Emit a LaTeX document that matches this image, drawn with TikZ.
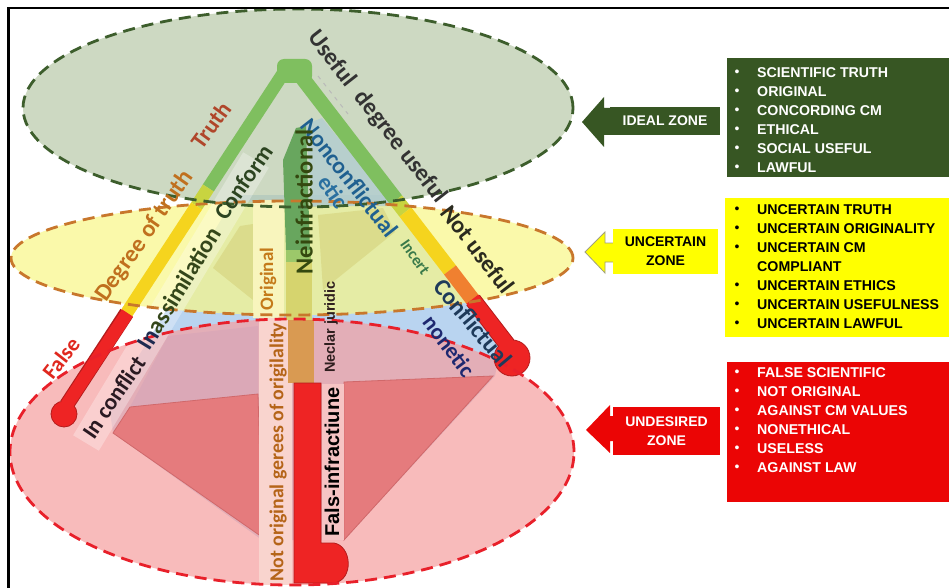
\documentclass[tikz,border=0pt]{standalone}
\usepackage{fontspec}
\setmainfont{Carlito}
\newfontfamily\arialf{Liberation Sans}
\definecolor{zoneG}{RGB}{184,202,169}
\definecolor{zoneY}{RGB}{249,247,134}
\definecolor{zoneR}{RGB}{246,159,159}
\definecolor{baseB}{RGB}{185,212,240}
\definecolor{lineG}{RGB}{61,94,44}
\definecolor{lineY}{RGB}{200,119,44}
\definecolor{lineR}{RGB}{232,32,42}
\definecolor{barG}{RGB}{127,191,95}
\definecolor{barL}{RGB}{200,212,64}
\definecolor{barY}{RGB}{245,212,30}
\definecolor{barO}{RGB}{240,128,48}
\definecolor{barR}{RGB}{238,36,36}
\definecolor{barRd}{RGB}{180,28,28}
\definecolor{cbG}{RGB}{104,166,94}
\definecolor{cbL}{RGB}{156,200,106}
\definecolor{cbY}{RGB}{214,212,110}
\definecolor{cbO}{RGB}{217,154,82}
\definecolor{nonconf}{RGB}{176,204,210}
\definecolor{olive}{RGB}{212,208,120}
\definecolor{pinkD}{RGB}{229,123,125}
\definecolor{pinkDd}{RGB}{208,104,106}
\definecolor{mauve}{RGB}{214,164,184}
\definecolor{origS}{RGB}{251,247,192}
\definecolor{notorigS}{RGB}{249,212,206}
\definecolor{falsS}{RGB}{246,196,196}
\definecolor{panelG}{RGB}{55,86,35}
\definecolor{panelY}{RGB}{255,255,0}
\definecolor{panelR}{RGB}{235,5,5}
\definecolor{txGray}{RGB}{51,51,51}
\definecolor{txDark}{RGB}{43,43,31}
\definecolor{txTruth}{RGB}{176,70,42}
\definecolor{txDeg}{RGB}{192,112,30}
\definecolor{txFalse}{RGB}{224,40,30}
\definecolor{txConf}{RGB}{42,26,34}
\definecolor{txIn}{RGB}{30,42,80}
\definecolor{txAssim}{RGB}{52,70,26}
\definecolor{txConform}{RGB}{44,68,32}
\definecolor{txBlue}{RGB}{31,96,144}
\definecolor{txEtic}{RGB}{42,112,160}
\definecolor{txIncert}{RGB}{58,122,74}
\definecolor{txConfl}{RGB}{30,58,90}
\definecolor{txNonetic}{RGB}{30,40,112}
\definecolor{txNeinf}{RGB}{52,72,15}
\definecolor{txNeclar}{RGB}{46,30,30}
\definecolor{txOrig}{RGB}{196,122,26}
\definecolor{txNotOrig}{RGB}{181,100,24}
\begin{document}
\begin{tikzpicture}[x=1pt,y=-1pt,
  lbl/.style={font=\fontsize{#1}{#1}\selectfont\bfseries, inner sep=0pt},
  albl/.style={font=\arialf\fontsize{#1}{#1}\selectfont\bfseries, inner sep=0pt},
  zoneborder/.style={line width=2.8pt, dash pattern=on 12pt off 7pt},
  listtxt/.style={font=\arialf\fontsize{14.2}{15}\selectfont\bfseries, inner sep=0pt, anchor=west},
  bul/.style={font=\arialf\fontsize{14}{14}\selectfont, inner sep=0pt},
  zonebox/.style={font=\arialf\fontsize{14}{19}\selectfont\bfseries, inner sep=0pt, align=center}
]
\useasboundingbox (0,0) rectangle (949,588);
\fill[white] (0,0) rectangle (949,588);

% pale blue body of the pyramid below the ideal zone
\fill[baseB] (236,195) -- (109,405) -- (113,433) -- (262,540) -- (344,540)
  -- (495,376) -- (503,335) -- (392,195) -- cycle;

% the three zones
\fill[zoneR, fill opacity=0.7] (292,452) ellipse [x radius=282pt, y radius=133pt];
\fill[zoneY, fill opacity=0.7] (292,258) ellipse [x radius=281pt, y radius=57pt];
\fill[zoneG, fill opacity=0.7] (298,108) ellipse [x radius=275pt, y radius=99pt];

% conformity band
\draw[white, draw opacity=0.3, line width=30pt] (256,160) -- (86,443);

% inner facets
\fill[nonconf, fill opacity=0.75] (306,124) -- (322,118) -- (386,196) -- (392,206) -- (312,206) -- cycle;
\fill[olive, fill opacity=0.55] (213,268) -- (240,226) -- (253,224) -- (253,300) -- cycle;
\fill[olive, fill opacity=0.55] (318,215) -- (383,208) -- (395,232) -- (323,290) -- cycle;
\fill[mauve, fill opacity=0.6] (168,336) -- (258,326) -- (258,394) -- (130,407) -- cycle;
\filldraw[fill=pinkD, draw=pinkDd, line width=0.8pt] (113,433) -- (130,407) -- (258,394) -- (262,537) -- cycle;
\filldraw[fill=pinkD, draw=pinkDd, line width=0.8pt] (344,382) -- (493,376) -- (344,540) -- cycle;

% vertical stripes
\fill[origS, fill opacity=0.9] (253,200) rectangle (284,318);
\fill[notorigS] (259,318) rectangle (292,585);
\fill[falsS] (322,384) rectangle (344,540);

% central column
\fill[cbG] (283,160) -- (296,128) -- (306,126) -- (310,250) -- (286,250) -- cycle;
\fill[cbL] (286,250) rectangle (311,262);
\fill[cbY] (286,262) rectangle (312,320);
\fill[cbO] (288,320) rectangle (314,383);
\filldraw[fill=barR, draw=barRd, line width=0.8pt] (294,383) -- (321,383) -- (321,543) -- (334,543)
  .. controls (352,546) and (354,580) .. (334,583) -- (294,583) -- cycle;

% left thermometer
\fill[barG, rounded corners=7pt] (277,59) rectangle (312,83);
\draw[barG, line width=13pt] (288,66) -- (208.3,188);
\draw[barL, line width=13pt] (208.3,188) -- (196.6,206);
\draw[barY, line width=13pt] (196.6,206) -- (126.7,313);
\draw[barRd, line width=15pt] (126.7,313) -- (66.6,405);
\filldraw[fill=barR, draw=barRd, line width=0.8pt] (64,414) circle[radius=13pt];
\draw[barR, line width=13pt] (127.4,313) -- (66.6,405);

% right thermometer
\draw[barG, line width=15pt] (300,75) -- (396.1,200);
\draw[barL, line width=15pt] (396.1,200) -- (405.4,212);
\draw[barY, line width=15pt] (405.4,212) -- (450,270);
\draw[barO, line width=15pt] (450,270) -- (473,300);
\draw[barRd, line width=17pt] (473,300) -- (507.6,345);
\filldraw[fill=barR, draw=barRd, line width=0.8pt] (512,358) circle[radius=18pt];
\draw[barR, line width=15pt] (472.4,299.2) -- (507.6,345);

% faint guide next to the usefulness label
\draw[gray!55, line width=1pt, dash pattern=on 4pt off 5pt] (318,76) -- (348,114);

% zone outlines
\draw[lineR, zoneborder] (292,452) ellipse [x radius=282pt, y radius=133pt];
\draw[lineY, zoneborder] (292,258) ellipse [x radius=281pt, y radius=57pt];
\draw[lineG, zoneborder] (298,108) ellipse [x radius=275pt, y radius=99pt];

% labels along the edges
\node[lbl=24, text=txGray, rotate=-52] (useful) at (377,117) {Useful\hspace{7pt} degree useful};
\node[lbl=24, text=txDark, rotate=-52.5] (notuseful) at (478,249) {Not useful};
\node[lbl=23, text=txTruth, rotate=54] (truth) at (211,125) {Truth};
\node[lbl=24, text=txDeg, rotate=55] (degtruth) at (145,236) {Degree of truth};
\node[lbl=22, text=txFalse, rotate=52] (false) at (61,358) {False};
\node[lbl=23, text=txConf, rotate=55.5] (inconflict) at (114,397) {In conflict};
\node[lbl=24, text=txAssim, rotate=58.5] (inassim) at (179,288) {\color{txIn}In\color{txAssim} assimilation};
\node[lbl=23.5, text=txConform, rotate=55.6] (conform) at (244,182) {Conform};
\node[lbl=23.5, text=txBlue, rotate=-52] (nonconf) at (350,178) {Nonconflictual};
\node[lbl=23, text=txEtic, rotate=-55] (etic) at (333,192) {etic};
\node[lbl=16, text=txIncert, rotate=-55] (incert) at (415,257) {Incert};
\node[lbl=24, text=txConfl, rotate=-50] (conflictual) at (473,323) {Conflictual};
\node[lbl=22.5, text=txNonetic, rotate=-53] (nonetic) at (449,346) {nonetic};
\node[lbl=24.5, text=txNeinf, rotate=90] (neinf) at (304,202) {Neinfractional};
\node[albl=14.5, text=txNeclar, rotate=90] (neclar) at (331,327) {Neclar juridic};
\node[lbl=19, text=txOrig, rotate=90] (original) at (268,279) {Original};
\node[lbl=19.8, text=txNotOrig, rotate=90] (notorig) at (278,452) {Not original gerees of origilality};
\node[albl=20, text=black, rotate=90] (fals) at (332,462) {Fals-infractiune};

% frame
\draw[black, line width=2.4pt] (8.5,588) -- (8.5,8) -- (949,8);

% ideal zone panel
\fill[panelG] (582,122) -- (604,97) -- (604,108) -- (612,108) -- (612,135) -- (604,135) -- (604,147) -- cycle;
\node[zonebox, fill=panelG, text=white, minimum width=110pt, minimum height=28pt] (ideal) at (665,121) {IDEAL ZONE};
\fill[panelG] (727,58) rectangle (949,177);
\foreach \t [count=\i] in {SCIENTIFIC TRUTH, ORIGINAL, CONCORDING CM, ETHICAL, SOCIAL USEFUL, LAWFUL} {
  \node[bul, text=white] (gb\i) at (737,{54+19*\i}) {•};
  \node[listtxt, text=white] (gl\i) at (757,{54+19*\i}) {\t};
}

% uncertain zone panel
\filldraw[fill=panelY, draw=gray!60!olive, line width=0.8pt] (585,252) -- (605,232) -- (605,243) -- (614,243) -- (614,262) -- (605,262) -- (605,273) -- cycle;
\node[zonebox, fill=panelY, text=black, minimum width=105pt, minimum height=45pt] (uncertain) at (665.5,251) {UNCERTAIN\\ZONE};
\fill[panelY] (725,198) rectangle (949,337);
\foreach \t/\b [count=\i] in {UNCERTAIN TRUTH/1, UNCERTAIN ORIGINALITY/1, UNCERTAIN CM/1, COMPLIANT/0, UNCERTAIN ETHICS/1, UNCERTAIN USEFULNESS/1, UNCERTAIN LAWFUL/1} {
  \ifnum\b=1 \node[bul, text=black] (yb\i) at (737,{191+19*\i}) {•}; \fi
  \node[listtxt, text=black] (yl\i) at (757,{191+19*\i}) {\t};
}

% undesired zone panel
\fill[panelR] (586,430) -- (610,405) -- (610,416) -- (615,416) -- (615,441) -- (610,441) -- (610,453) -- cycle;
\node[zonebox, fill=panelR, text=white, minimum width=107pt, minimum height=48pt] (undesired) at (666.5,431) {UNDESIRED\\ZONE};
\fill[panelR] (727,362) rectangle (949,502);
\foreach \t [count=\i] in {FALSE SCIENTIFIC, NOT ORIGINAL, AGAINST CM VALUES, NONETHICAL, USELESS, AGAINST LAW} {
  \node[bul, text=white] (rb\i) at (737,{354+19*\i}) {•};
  \node[listtxt, text=white] (rl\i) at (757,{354+19*\i}) {\t};
}
\end{tikzpicture}
\end{document}
